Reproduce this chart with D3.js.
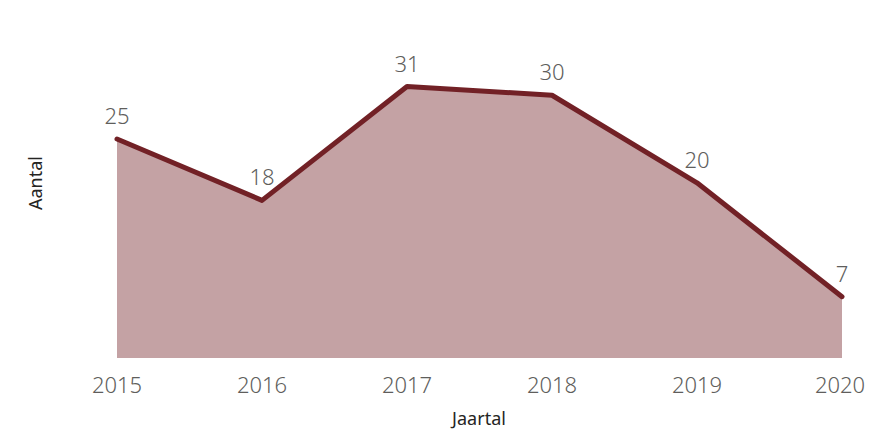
<html>
<head>
    <script src="https://d3js.org/d3.v7.min.js"></script>
    <style>
        body { margin: 0; background: #fff; }
        text { font-family: "Noto Sans", "Open Sans", sans-serif; font-weight: 300; }
        .tick-label { fill: #605e5c; font-size: 22px; }
        .data-label { fill: #605e5c; font-size: 22px; }
        .axis-title { fill: #252423; font-size: 18px; font-weight: 400; }
    </style>
</head>
<body>
    <svg id="chart" width="895" height="431"></svg>
    <script>
        // Aantal per jaartal
        const years = [2015, 2016, 2017, 2018, 2019, 2020];
        const counts = [25, 18, 31, 30, 20, 7];
        const data = years.map((y, i) => ({ year: y, value: counts[i] }));

        const svg = d3.select("#chart");
        const lineColor = "#722126";

        const xScale = d3.scaleLinear().domain([2015, 2020]).range([117, 842]);
        const yScale = d3.scaleLinear().domain([0, 31]).range([358, 86.5]);

        const area = d3.area()
            .x(d => xScale(d.year))
            .y0(yScale(0))
            .y1(d => yScale(d.value));
        const line = d3.line()
            .x(d => xScale(d.year))
            .y(d => yScale(d.value));

        svg.append("path").datum(data)
            .attr("d", area)
            .attr("fill", lineColor)
            .attr("fill-opacity", 0.42);

        svg.append("path").datum(data)
            .attr("d", line)
            .attr("fill", "none")
            .attr("stroke", lineColor)
            .attr("stroke-width", 5)
            .attr("stroke-linejoin", "round")
            .attr("stroke-linecap", "round");

        // data labels
        svg.selectAll("text.data-label").data(data)
            .join("text")
            .attr("class", "data-label")
            .attr("x", d => xScale(d.year))
            .attr("y", d => yScale(d.value) - 15)
            .attr("text-anchor", "middle")
            .text(d => d.value);

        // x tick labels
        svg.selectAll("text.tick-label").data(years)
            .join("text")
            .attr("class", "tick-label")
            .attr("x", (d, i) => i === years.length - 1 ? xScale(d) - 2 : xScale(d))
            .attr("y", 393)
            .attr("text-anchor", "middle")
            .text(d => d);

        svg.append("text").attr("class", "axis-title")
            .attr("x", 479).attr("y", 425)
            .attr("text-anchor", "middle")
            .text("Jaartal");

        svg.append("text").attr("class", "axis-title")
            .attr("transform", "translate(42,183) rotate(-90)")
            .attr("text-anchor", "middle")
            .text("Aantal");
    </script>
</body>
</html>
